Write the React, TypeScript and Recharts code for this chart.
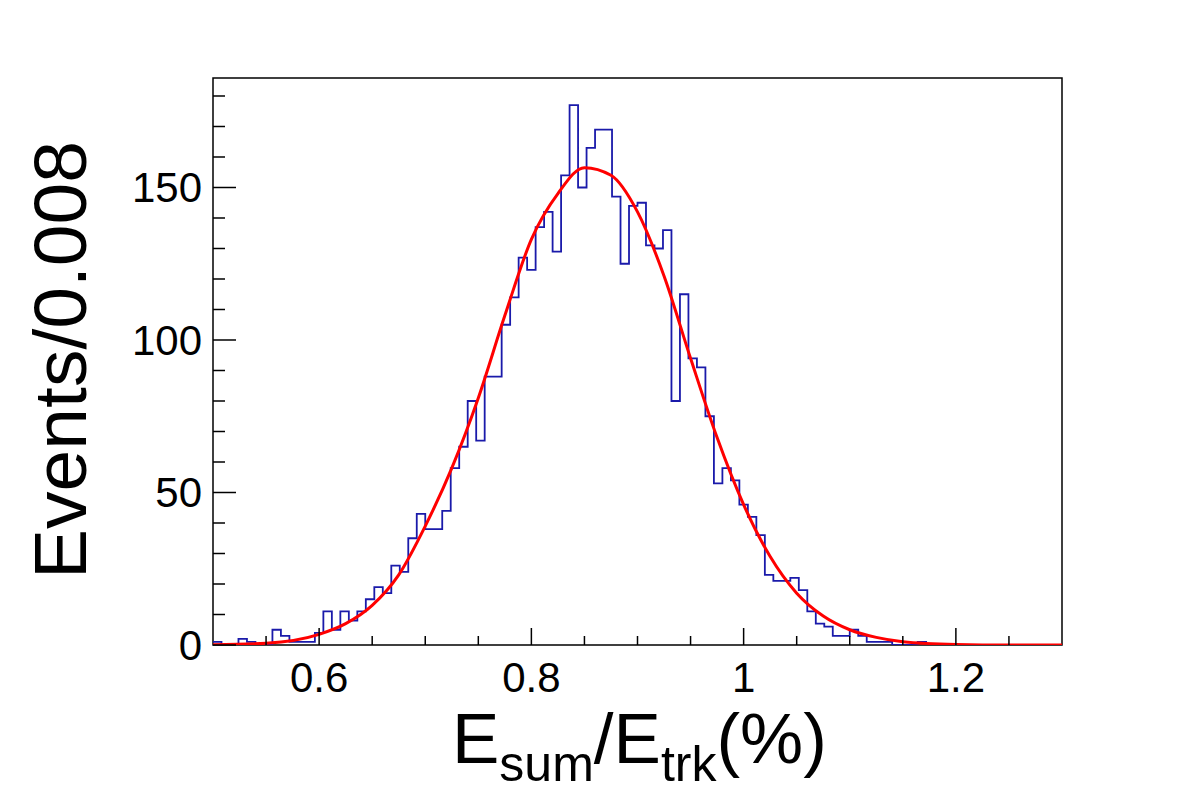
import { ComposedChart, Line, XAxis, YAxis, ReferenceArea } from 'recharts';

// histogram binning
const X_MIN = 0.5;
const X_MAX = 1.3;
const BIN_WIDTH = 0.008;
const Y_MAX = 185.9;

// events per bin, 100 bins from 0.5 to 1.3
const COUNTS = [
  1, 0, 0, 2, 1, 0, 0, 5, 3, 1,
  1, 1, 4, 11, 5, 11, 8, 11, 15, 19,
  17, 26, 24, 35, 43, 38, 38, 44, 58, 65,
  80, 67, 88, 88, 105, 114, 127, 123, 137, 142,
  129, 154, 177, 150, 163, 169, 169, 147, 125, 144,
  145, 131, 130, 136, 80, 115, 94, 91, 75, 53,
  58, 54, 46, 42, 36, 23, 21, 21, 22, 18,
  11, 7, 6, 3, 3, 5, 3, 1, 1, 1,
  0, 0, 0, 1, 0, 0, 0, 0, 0, 0,
  0, 0, 0, 0, 0, 0, 0, 0, 0, 0,
];

// gaussian fit curve, sampled
const FIT_X = [
  0.5, 0.55, 0.6, 0.625, 0.65, 0.675, 0.7, 0.725, 0.75, 0.775,
  0.8, 0.825, 0.85, 0.875, 0.9, 0.925, 0.95, 0.975, 1.0, 1.025,
  1.05, 1.075, 1.1, 1.125, 1.15, 1.2, 1.25, 1.3,
];
const FIT_Y = [
  0.1, 0.6, 3.5, 7, 13, 23, 39, 58, 81, 108,
  133, 148, 156.5, 154, 142, 121, 94, 68, 46, 29,
  17, 9.5, 5, 2.5, 1.1, 0.2, 0, 0,
];

const X_TICKS = [
  0.55, 0.6, 0.65, 0.7, 0.75, 0.8, 0.85, 0.9, 0.95, 1,
  1.05, 1.1, 1.15, 1.2, 1.25,
];
const X_LABELS: Record<string, string> = { '0.6': '0.6', '0.8': '0.8', '1': '1', '1.2': '1.2' };
const Y_TICKS = [0, 10, 20, 30, 40, 50, 60, 70, 80, 90, 100, 110, 120, 130, 140, 150, 160, 170, 180];
const Y_LABELS = [0, 50, 100, 150];

const W = 1182;
const H = 800;
const PLOT = { left: 213, top: 78, right: 1062, bottom: 645 };
const AXIS_X_H = 60;
const AXIS_Y_W = 60;
const FONT = '"Liberation Sans", Arial, Helvetica, sans-serif';

const histData = COUNTS.map((c, i) => ({ x: X_MIN + i * BIN_WIDTH, h: c }));
histData.push({ x: X_MAX, h: COUNTS[COUNTS.length - 1] });

const fitData = FIT_X.map((x, i) => ({ x, f: FIT_Y[i] }));

// ticks point into the frame, like ROOT draws them
function XTick(props: any) {
  const { x, payload } = props;
  const label = X_LABELS[String(payload.value)];
  const len = label ? 17 : 9;
  return (
    <g>
      <line x1={x} x2={x} y1={PLOT.bottom} y2={PLOT.bottom - len} stroke="#000" strokeWidth={1.5} />
      {label && (
        <text x={x} y={692} textAnchor="middle" fontSize={42} fontFamily={FONT} fill="#000">
          {label}
        </text>
      )}
    </g>
  );
}

function YTick(props: any) {
  const { y, payload } = props;
  const major = Y_LABELS.includes(payload.value);
  const len = major ? 23 : 12;
  return (
    <g>
      <line x1={PLOT.left} x2={PLOT.left + len} y1={y} y2={y} stroke="#000" strokeWidth={1.5} />
      {major && (
        <text x={202} y={y + 15} textAnchor="end" fontSize={42} fontFamily={FONT} fill="#000">
          {payload.value}
        </text>
      )}
    </g>
  );
}

export default function App() {
  return (
    <div style={{ position: 'absolute', left: 0, top: 0, width: W, height: H, background: '#fff' }}>
      <ComposedChart
        width={W}
        height={H}
        margin={{
          top: PLOT.top,
          left: PLOT.left - AXIS_Y_W,
          right: W - PLOT.right,
          bottom: H - PLOT.bottom - AXIS_X_H,
        }}
      >
        <XAxis
          type="number"
          dataKey="x"
          domain={[X_MIN, X_MAX]}
          allowDataOverflow
          ticks={X_TICKS}
          interval={0}
          height={AXIS_X_H}
          axisLine={false}
          tickLine={false}
          tick={XTick}
        />
        <YAxis
          type="number"
          domain={[0, Y_MAX]}
          allowDataOverflow
          ticks={Y_TICKS}
          interval={0}
          width={AXIS_Y_W}
          axisLine={false}
          tickLine={false}
          tick={YTick}
        />
        <ReferenceArea x1={X_MIN} x2={X_MAX} y1={0} y2={Y_MAX} fill="none" stroke="#000" strokeWidth={1.5} />
        <Line
          data={histData}
          dataKey="h"
          type="stepAfter"
          stroke="#1a1aaa"
          strokeWidth={1.8}
          dot={false}
          activeDot={false}
          isAnimationActive={false}
        />
        <Line
          data={fitData}
          dataKey="f"
          type="monotone"
          stroke="#ff0000"
          strokeWidth={3}
          dot={false}
          activeDot={false}
          isAnimationActive={false}
        />
      </ComposedChart>
      <svg width={W} height={H} style={{ position: 'absolute', left: 0, top: 0, pointerEvents: 'none' }}>
        <text x={452} y={763} fontSize={71} fontFamily={FONT} fill="#000">
          E<tspan fontSize={50} dy={18}>sum</tspan>
          <tspan dy={-18}>/E</tspan>
          <tspan fontSize={50} dy={18}>trk</tspan>
          <tspan dy={-18}>(%)</tspan>
        </text>
        <text
          transform="translate(86, 360) rotate(-90)"
          textAnchor="middle"
          fontSize={75}
          fontFamily={FONT}
          fill="#000"
        >
          Events/0.008
        </text>
      </svg>
    </div>
  );
}
